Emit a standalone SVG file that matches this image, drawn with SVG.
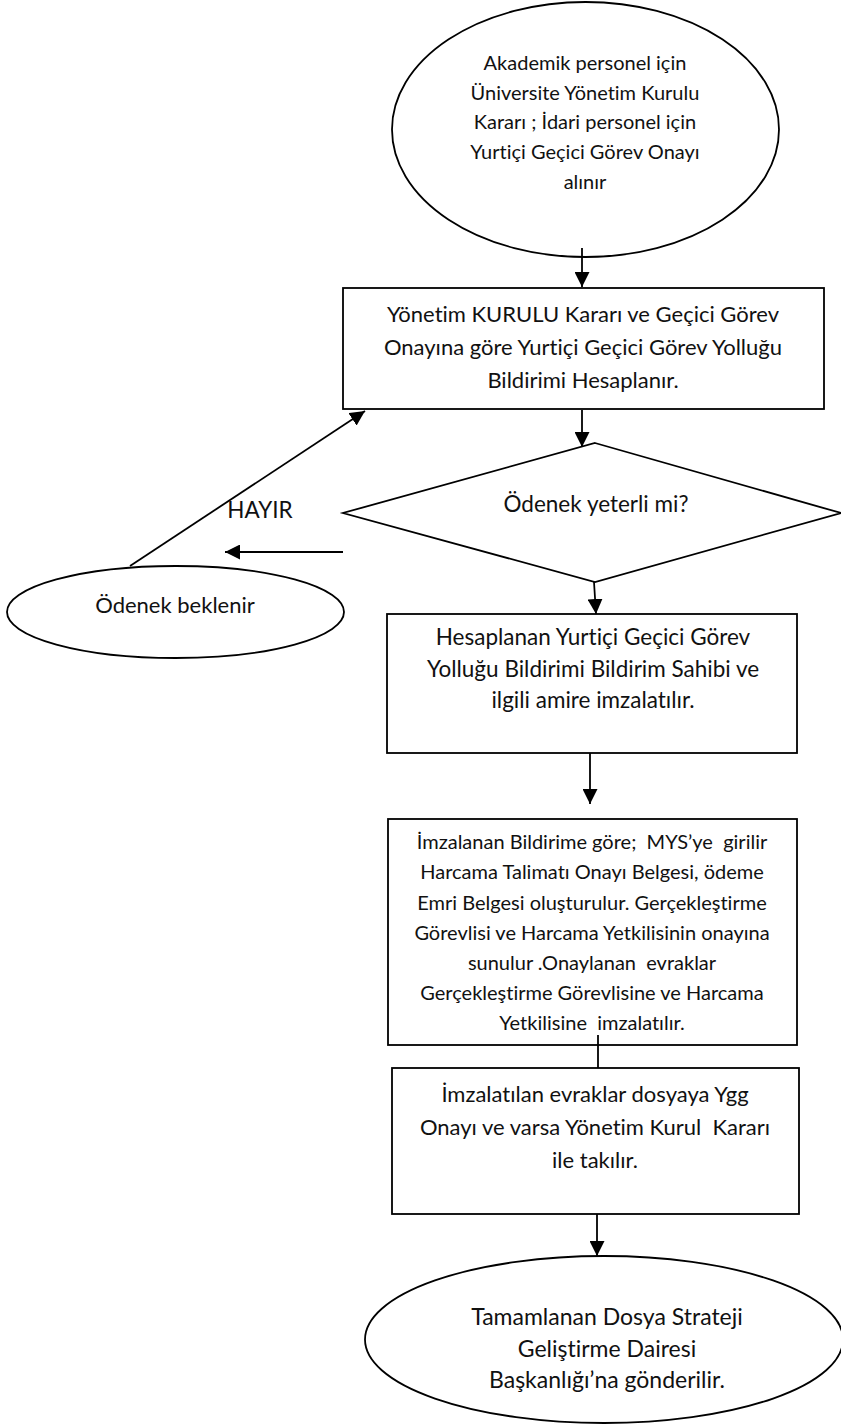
<svg xmlns="http://www.w3.org/2000/svg" width="841" height="1425" viewBox="0 0 841 1425">
<defs>
<marker id="ah" markerUnits="userSpaceOnUse" markerWidth="15" markerHeight="15" refX="15" refY="7.5" orient="auto" viewBox="0 0 15 15">
<path d="M0,0 L15,7.5 L0,15 z" fill="#000"/>
</marker>
<style>
.shape{fill:#fff;stroke:#000;stroke-width:1.8}
.ln{stroke:#000;stroke-width:1.8;fill:none}
.arr{marker-end:url(#ah)}
text{font-family:Lato,"Open Sans","Liberation Sans",sans-serif;fill:#111;text-anchor:middle;white-space:pre;font-variant-ligatures:none;font-feature-settings:"liga" 0,"dlig" 0}
.t20{font-size:20px}
.t22{font-size:22px}
.t225{font-size:22.5px}
.t23{font-size:23px}
</style>
</defs>
<rect width="841" height="1425" fill="#fff"/>
<g id="start">
<ellipse class="shape" cx="585.5" cy="129.5" rx="193.5" ry="127.5"/>
<text class="t20" x="585" y="70">Akademik personel için</text>
<text class="t20" x="585" y="100">Üniversite Yönetim Kurulu</text>
<text class="t20" x="585" y="129">Kararı ; İdari personel için</text>
<text class="t20" x="585" y="159">Yurtiçi Geçici Görev Onayı</text>
<text class="t20" x="585" y="189">alınır</text>
</g>
<g id="calc">
<rect class="shape" x="343" y="288" width="481" height="121"/>
<text class="t22" x="583" y="322">Yönetim KURULU Kararı ve Geçici Görev</text>
<text class="t22" x="583" y="355">Onayına göre Yurtiçi Geçici Görev Yolluğu</text>
<text class="t22" x="583" y="388">Bildirimi Hesaplanır.</text>
</g>
<g id="decision">
<polygon class="shape" points="595,443 841,513 595,582 343,513"/>
<text class="t225" x="596" y="512">Ödenek yeterli mi?</text>
</g>
<g id="wait">
<ellipse class="shape" cx="175.5" cy="612" rx="168.5" ry="46"/>
<text class="t22" x="175" y="613">Ödenek beklenir</text>
</g>
<g id="sign">
<rect class="shape" x="387" y="614" width="410" height="139"/>
<text class="t225" x="593" y="645">Hesaplanan Yurtiçi Geçici Görev</text>
<text class="t225" x="593" y="677">Yolluğu Bildirimi Bildirim Sahibi ve</text>
<text class="t225" x="593" y="708">ilgili amire imzalatılır.</text>
</g>
<g id="mys">
<rect class="shape" x="388" y="819" width="409" height="226"/>
<text class="t20" x="592" y="849">İmzalanan Bildirime göre;  MYS’ye  girilir</text>
<text class="t20" x="592" y="879">Harcama Talimatı Onayı Belgesi, ödeme</text>
<text class="t20" x="592" y="910">Emri Belgesi oluşturulur. Gerçekleştirme</text>
<text class="t20" x="592" y="940">Görevlisi ve Harcama Yetkilisinin onayına</text>
<text class="t20" x="592" y="970">sunulur .Onaylanan  evraklar</text>
<text class="t20" x="592" y="1000">Gerçekleştirme Görevlisine ve Harcama</text>
<text class="t20" x="592" y="1030">Yetkilisine  imzalatılır.</text>
</g>
<g id="file">
<rect class="shape" x="392" y="1068" width="407" height="146"/>
<text class="t22" x="595" y="1102">İmzalatılan evraklar dosyaya Ygg</text>
<text class="t22" x="595" y="1135">Onayı ve varsa Yönetim Kurul  Kararı</text>
<text class="t22" x="595" y="1168">ile takılır.</text>
</g>
<g id="end">
<ellipse class="shape" cx="604" cy="1339.5" rx="239" ry="83.5"/>
<text class="t23" x="607" y="1325">Tamamlanan Dosya Strateji</text>
<text class="t23" x="607" y="1357">Geliştirme Dairesi</text>
<text class="t23" x="607" y="1388">Başkanlığı’na gönderilir.</text>
</g>
<g id="connectors">
<line class="ln arr" x1="582" y1="248" x2="582" y2="287"/>
<line class="ln arr" x1="582" y1="410" x2="582" y2="447"/>
<line class="ln arr" x1="594" y1="582" x2="596" y2="614"/>
<line class="ln arr" x1="590" y1="753" x2="590" y2="804"/>
<line class="ln" x1="598" y1="1035" x2="598" y2="1068"/>
<line class="ln arr" x1="597" y1="1214" x2="597" y2="1256"/>
<line class="ln arr" x1="343" y1="552" x2="225" y2="552"/>
<line class="ln arr" x1="130" y1="566" x2="365" y2="411"/>
<text class="t225" x="260" y="518">HAYIR</text>
</g>
</svg>
